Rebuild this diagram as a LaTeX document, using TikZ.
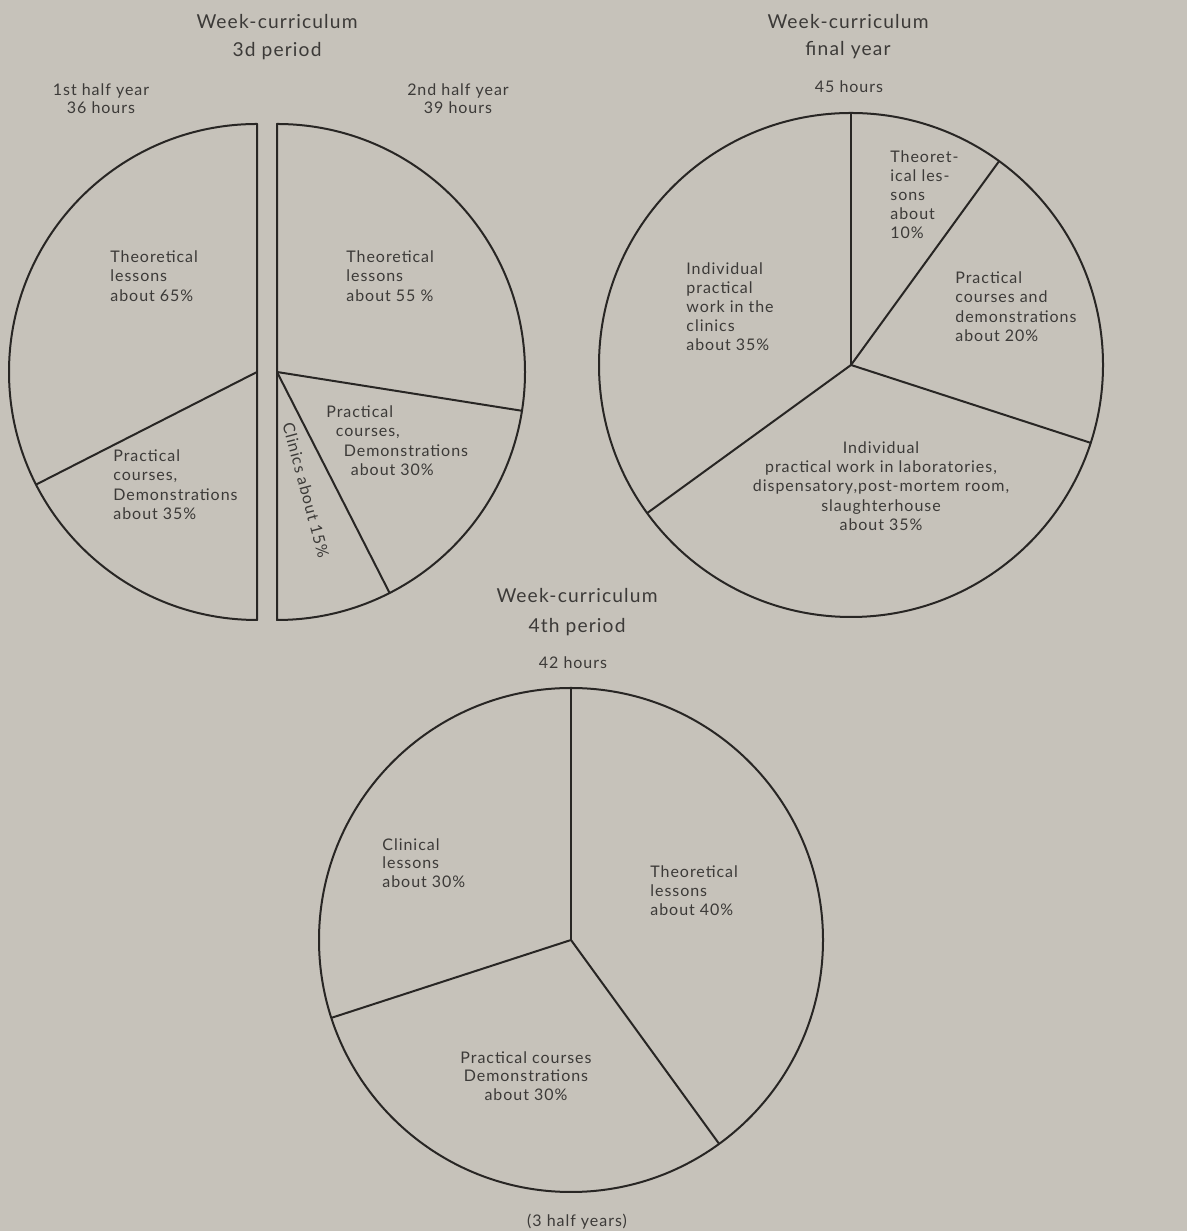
\documentclass[tikz,border=0pt]{standalone}
\usepackage{fontspec}
\setmainfont{Lato}[LetterSpace=6]
\definecolor{paper}{RGB}{198,194,186}
\definecolor{inkc}{RGB}{40,38,36}
\definecolor{txtc}{RGB}{60,58,56}
\begin{document}
\begin{tikzpicture}[x=0.5pt,y=0.5pt,
  pie/.style={draw=inkc, line width=1pt, line join=round},
  lbl/.style={text=txtc, font=\fontsize{8}{9.75}\selectfont, inner sep=0pt, align=left, anchor=north west},
  lblc/.style={lbl, align=center, anchor=north},
  ttl/.style={text=txtc, font=\fontsize{9.6}{11}\selectfont, inner sep=0pt},
  hrs/.style={text=txtc, font=\fontsize{8}{9}\selectfont, inner sep=0pt, align=center}]
\fill[paper] (0,0) rectangle (1187,1231);
\useasboundingbox (0,0) rectangle (1187,1231);

% centres
\coordinate (cL) at (257,859);
\coordinate (cR) at (277,859);
\coordinate (cF) at (851,866);
\coordinate (cB) at (571,291);

% 3d period: two half discs
\draw[pie] (cL) ++(90:248) arc[start angle=90,end angle=270,radius=248] -- cycle;
\draw[pie] (cL) -- ++(207:248);
\draw[pie] (cR) ++(-90:248) arc[start angle=-90,end angle=90,radius=248] -- cycle;
\draw[pie] (cR) -- ++(-9:248);
\draw[pie] (cR) -- ++(-63:248);

% final year
\draw[pie] (cF) circle[radius=252];
\draw[pie] (cF) -- ++(90:252);
\draw[pie] (cF) -- ++(54:252);
\draw[pie] (cF) -- ++(-18:252);
\draw[pie] (cF) -- ++(216:252);

% 4th period
\draw[pie] (cB) circle[radius=252];
\draw[pie] (cB) -- ++(90:252);
\draw[pie] (cB) -- ++(-54:252);
\draw[pie] (cB) -- ++(198:252);

% titles
\node[ttl] (t3a) at (277,1209) {Week-curriculum};
\node[ttl] (t3b) at (277,1180) {3d period};
\node[hrs] (h1) at (101,1132) {1st half year\\36 hours};
\node[hrs] (h2) at (458,1132) {2nd half year\\39 hours};
\node[ttl] (tfa) at (848,1209) {Week-curriculum};
\node[ttl] (tfb) at (848,1181) {final year};
\node[hrs] (tfc) at (849,1144) {45 hours};
\node[ttl] (t4a) at (577,635) {Week-curriculum};
\node[ttl] (t4b) at (577,604) {4th period};
\node[hrs] (t4c) at (573,568) {42 hours};
\node[hrs] (foot) at (577,9) {(3 half years)};

% 3d period labels
\node[lbl] (l1) at (110,981) {Theoretical\\lessons\\about 65\%};
\node[lbl] (l2) at (113,782) {Practical\\courses,\\Demonstrations\\about 35\%};
\node[lbl] (r1) at (346,981) {Theoretical\\lessons\\about 55 \%};
\node[lbl] (r2) at (326,826) {Practical\\\hspace*{4.75pt}courses,\\\hspace*{8.75pt}Demonstrations\\\hspace*{12.25pt}about 30\%};
\node[text=txtc, font=\fontsize{8}{9.75}\selectfont, inner sep=0pt, rotate=-75] (r3) at (306,741) {Clinics about 15\%};

% final year labels
\node[lbl, font=\fontsize{8}{9.5}\selectfont] (f1) at (890,1081) {Theoret-\\ical les-\\sons\\about\\10\%};
\node[lbl, font=\fontsize{8}{9.5}\selectfont] (f2) at (686,969) {Individual\\practical\\work in the\\clinics\\about 35\%};
\node[lbl] (f3) at (955,960) {Practical\\courses and\\demonstrations\\about 20\%};
\node[lblc, font=\fontsize{8}{9.7}\selectfont] (f4) at (881,790) {Individual\\practical work in laboratories,\\dispensatory,post-mortem room,\\slaughterhouse\\about 35\%};

% 4th period labels
\node[lbl, font=\fontsize{8}{9.25}\selectfont] (b1) at (382,393) {Clinical\\lessons\\about 30\%};
\node[lbl, font=\fontsize{8}{9.5}\selectfont] (b2) at (650,366) {Theoretical\\lessons\\about 40\%};
\node[lblc, font=\fontsize{8}{9.25}\selectfont] (b3) at (526,180) {Practical courses\\Demonstrations\\about 30\%};
\end{tikzpicture}
\end{document}
